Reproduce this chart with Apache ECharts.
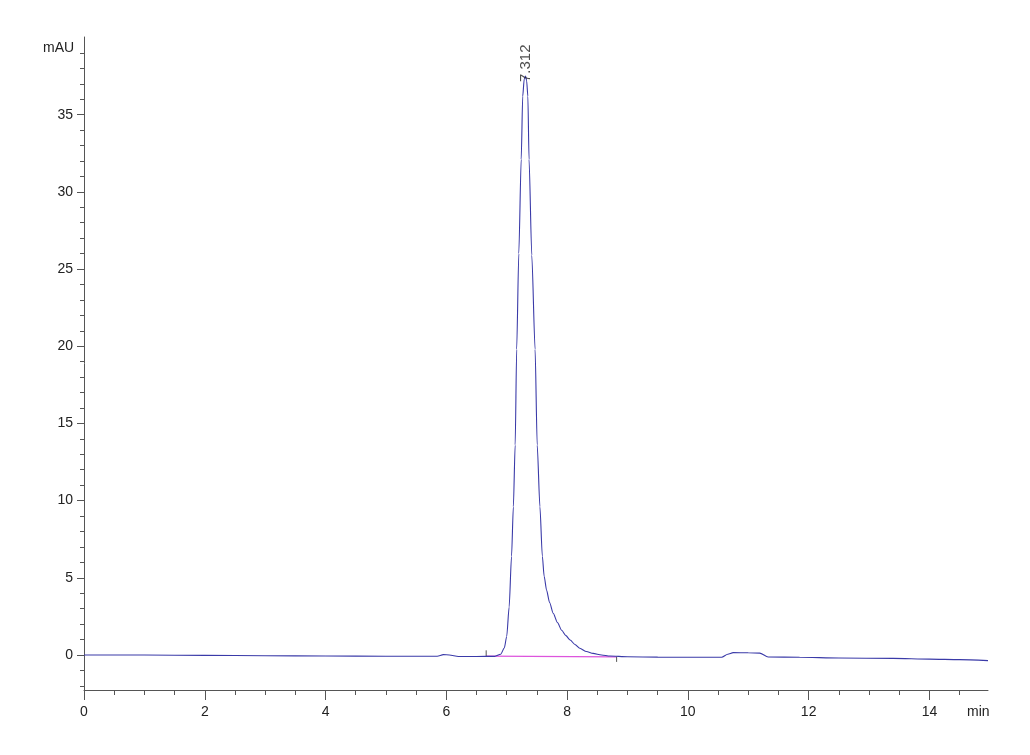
<!DOCTYPE html>
<html>
<head>
<meta charset="utf-8">
<script src="https://cdn.jsdelivr.net/npm/echarts@6/dist/echarts.min.js"></script>
<style>
html,body{margin:0;padding:0;background:#fff;}
#chart{width:1030px;height:755px;}
</style>
</head>
<body>
<div id="chart"></div>
<script>
// Retention time (min) and absorbance (mAU)
const times = [0, 1.0, 2.0, 3.0, 4.0, 5.0, 5.85, 5.95, 6.05, 6.2, 6.5, 6.8, 6.9, 6.96, 7.0, 7.04, 7.08, 7.11, 7.14, 7.165, 7.2, 7.24, 7.265, 7.29, 7.312, 7.33, 7.35, 7.37, 7.415, 7.47, 7.505, 7.55, 7.59, 7.62, 7.66, 7.71, 7.77, 7.84, 7.91, 7.98, 8.05, 8.13, 8.21, 8.32, 8.43, 8.57, 8.71, 9.0, 9.5, 10.0, 10.56, 10.66, 10.75, 11.0, 11.19, 11.33, 11.85, 12.5, 13.4, 14.0, 14.5, 14.97];
const signal = [0, 0.0, -0.03, -0.05, -0.07, -0.08, -0.08, 0.02, 0.0, -0.1, -0.1, -0.09, 0.05, 0.45, 1.2, 3.1, 6.4, 9.6, 13.6, 19.8, 26.0, 32.1, 36.2, 37.3, 37.5, 37.2, 36.2, 32.1, 25.9, 19.8, 13.6, 9.6, 6.4, 5.1, 4.2, 3.4, 2.7, 2.1, 1.6, 1.25, 0.97, 0.68, 0.43, 0.22, 0.1, 0.0, -0.07, -0.12, -0.14, -0.15, -0.15, 0.05, 0.15, 0.14, 0.12, -0.13, -0.15, -0.2, -0.22, -0.27, -0.3, -0.37];

// Integration baseline of the main peak
const baseTimes = [6.66, 8.82];
const baseValues = [-0.08, -0.12];
// Integration event markers (start up, end down)
const startMark = [[6.66, -0.08], [6.66, 0.3]];
const endMark = [[8.82, -0.12], [8.82, -0.45]];

// Peak annotation
const peakTimes = [7.312];
const peakHeights = [37.5];
const peakLabels = ['7.312'];

// Axis ticks
const xMajor = [0, 2, 4, 6, 8, 10, 12, 14];
const xMinor = [0.5, 1, 1.5, 2.5, 3, 3.5, 4.5, 5, 5.5, 6.5, 7, 7.5, 8.5, 9, 9.5, 10.5, 11, 11.5, 12.5, 13, 13.5, 14.5];
const yMajor = [0, 5, 10, 15, 20, 25, 30, 35];
const yMinor = [-2, -1, 1, 2, 3, 4, 6, 7, 8, 9, 11, 12, 13, 14, 16, 17, 18, 19, 21, 22, 23, 24, 26, 27, 28, 29, 31, 32, 33, 34, 36, 37, 38, 39];

const X_MIN = 0, X_MAX = 14.97, Y_MIN = -2.27, Y_MAX = 40.03;
const axisColor = '#555';
const textColor = '#222';
const font = 'Liberation Sans, Arial, sans-serif';

const chart = echarts.init(document.getElementById('chart'), null, {renderer: 'canvas'});

const trace = times.map((t, i) => [t, signal[i]]);
const base = baseTimes.map((t, i) => [t, baseValues[i]]);
const peaks = peakTimes.map((t, i) => ({value: [t, peakHeights[i]], name: peakLabels[i]}));

function xAx(extra) {
  return Object.assign({
    type: 'value', min: X_MIN, max: X_MAX, position: 'bottom',
    splitLine: {show: false}
  }, extra);
}
function yAx(extra) {
  return Object.assign({
    type: 'value', min: Y_MIN, max: Y_MAX, position: 'left',
    splitLine: {show: false}
  }, extra);
}

chart.setOption({
  animation: false,
  backgroundColor: '#fff',
  grid: {left: 84, right: 42, top: 37, bottom: 65, containLabel: false},
  xAxis: [
    xAx({
      axisLine: {show: true, onZero: false, lineStyle: {color: axisColor, width: 1}},
      axisTick: {show: true, inside: false, length: 10, customValues: xMajor, lineStyle: {color: axisColor}},
      axisLabel: {show: true, customValues: xMajor, margin: 15, color: textColor, fontSize: 14, fontFamily: font}
    }),
    xAx({
      axisLine: {show: false, onZero: false},
      axisTick: {show: true, inside: false, length: 5, customValues: xMinor, lineStyle: {color: axisColor}},
      axisLabel: {show: false}
    })
  ],
  yAxis: [
    yAx({
      axisLine: {show: true, onZero: false, lineStyle: {color: axisColor, width: 1}},
      axisTick: {show: true, inside: false, length: 7, customValues: yMajor, lineStyle: {color: axisColor}},
      axisLabel: {show: true, customValues: yMajor, margin: 11, color: textColor, fontSize: 14, fontFamily: font}
    }),
    yAx({
      axisLine: {show: false, onZero: false},
      axisTick: {show: true, inside: false, length: 4, customValues: yMinor, lineStyle: {color: axisColor}},
      axisLabel: {show: false}
    })
  ],
  graphic: [
    {type: 'text', left: 43, top: 41, style: {text: 'mAU', fill: textColor, font: '14px ' + font}},
    {type: 'text', left: 967, top: 705, style: {text: 'min', fill: textColor, font: '14px ' + font}}
  ],
  series: [
    {
      type: 'line', data: trace, xAxisIndex: 0, yAxisIndex: 0,
      showSymbol: false, symbol: 'none', smooth: 0.25, smoothMonotone: 'x',
      lineStyle: {color: '#3a3aa8', width: 1.1}, z: 3
    },
    {
      type: 'line', data: base, showSymbol: false, symbol: 'none',
      lineStyle: {color: '#dd55dd', width: 1.2}, z: 2
    },
    {
      type: 'line', data: startMark, showSymbol: false, symbol: 'none',
      lineStyle: {color: '#555', width: 1}, z: 2
    },
    {
      type: 'line', data: endMark, showSymbol: false, symbol: 'none',
      lineStyle: {color: '#555', width: 1}, z: 2
    },
    {
      type: 'scatter', data: peaks, symbolSize: 0, z: 4,
      label: {
        show: true, formatter: p => p.name, position: [0, 6], rotate: 90,
        align: 'left', verticalAlign: 'middle',
        color: textColor, fontSize: 15, fontFamily: font
      }
    }
  ]
});
</script>
</body>
</html>
